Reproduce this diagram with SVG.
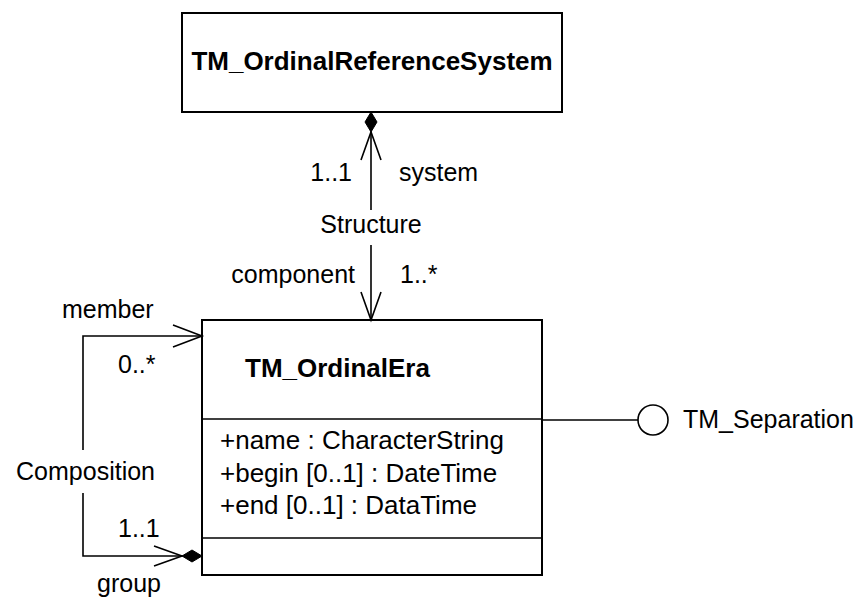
<svg xmlns="http://www.w3.org/2000/svg" width="864" height="603" viewBox="0 0 864 603">
<style>
.box{fill:#fff;stroke:#000;stroke-width:2}
.ln{fill:none;stroke:#000;stroke-width:1.6}
.t{font-family:"Liberation Sans",Arial,sans-serif;font-size:25px;fill:#000}
.a{font-family:"Liberation Sans",Arial,sans-serif;font-size:26px;fill:#000}
.b{font-family:"Liberation Sans",Arial,sans-serif;font-size:26px;font-weight:bold;fill:#000}
</style>
<rect width="864" height="603" fill="#fff"/>
<g id="TM_OrdinalReferenceSystem">
<rect class="box" x="182" y="13" width="380" height="99"/>
<text class="b" x="372" y="70" text-anchor="middle">TM_OrdinalReferenceSystem</text>
</g>
<g id="TM_OrdinalEra">
<rect class="box" x="202" y="320" width="340" height="255"/>
<line class="ln" x1="202" y1="419" x2="542" y2="419" stroke-width="2"/>
<line class="ln" x1="202" y1="538" x2="542" y2="538" stroke-width="2"/>
<text class="b" x="245" y="377">TM_OrdinalEra</text>
<text class="a" x="220" y="449">+name : CharacterString</text>
<text class="a" x="220" y="482">+begin [0..1] : DateTime</text>
<text class="a" x="220" y="514">+end [0..1] : DataTime</text>
</g>
<g id="TM_Separation">
<circle cx="653" cy="420" r="15" fill="#fff" stroke="#000" stroke-width="1.6"/>
<text class="t" x="683" y="428">TM_Separation</text>
</g>
<g id="connectors">
<line class="ln" x1="371" y1="132" x2="371" y2="210"/>
<line class="ln" x1="371" y1="245" x2="371" y2="320"/>
<polygon points="371,112 377,122 371,132 365,122" fill="#000" stroke="#000" stroke-width="1"/>
<polyline class="ln" points="361,160 371,132 381,160"/>
<polyline class="ln" points="361,292 371,320 381,292"/>
<text class="t" x="371" y="233" text-anchor="middle">Structure</text>
<text class="t" x="352" y="181" text-anchor="end">1..1</text>
<text class="t" x="399" y="181">system</text>
<text class="t" x="355" y="283" text-anchor="end">component</text>
<text class="t" x="400" y="283">1..*</text>
<polyline class="ln" points="83,450 83,336 202,336"/>
<polyline class="ln" points="173,325 202,336 173,347"/>
<polyline class="ln" points="83,493 83,556 182,556"/>
<polygon points="182,556 192,550 202,556 192,562" fill="#000" stroke="#000" stroke-width="1"/>
<polyline class="ln" points="154,546 182,556 154,566"/>
<text class="t" x="155" y="480" text-anchor="end">Composition</text>
<text class="t" x="62" y="318">member</text>
<text class="t" x="118" y="373">0..*</text>
<text class="t" x="118" y="537">1..1</text>
<text class="t" x="97" y="592">group</text>
<line class="ln" x1="542" y1="420" x2="638" y2="420"/>
</g>
</svg>
